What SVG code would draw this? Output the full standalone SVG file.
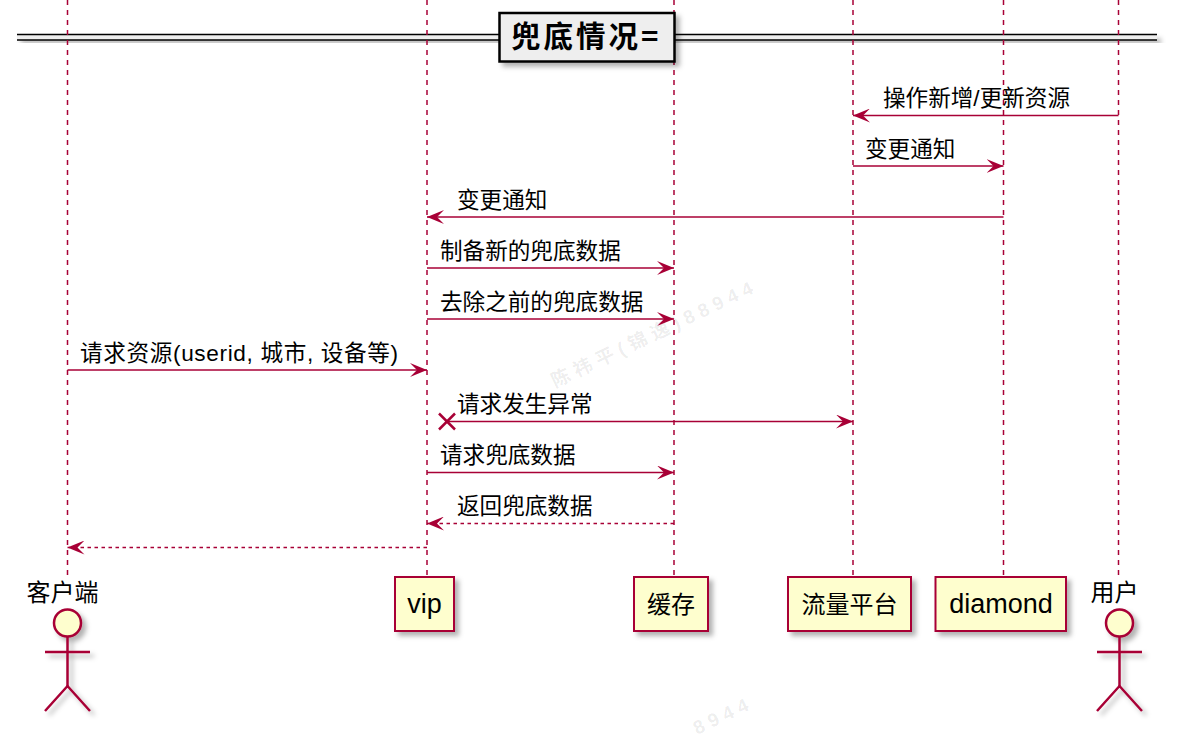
<svg xmlns="http://www.w3.org/2000/svg" width="1203" height="741" viewBox="0 0 1203 741">
<style>
.life{stroke:#A80036;stroke-width:1.5;stroke-dasharray:5,5;fill:none}
.msg{stroke:#A80036;stroke-width:1.5;fill:none;marker-end:url(#ah)}
.dash{stroke-dasharray:3.5,3.5}
.lbl{font-family:"Liberation Sans","Noto Sans CJK SC",sans-serif;font-size:22.6px;fill:#000}
.part{fill:#FEFECE;stroke:#A80036;stroke-width:2}
.pname{font-family:"Liberation Sans","Noto Sans CJK SC",sans-serif;font-size:24px;fill:#000;text-anchor:middle}
.latin{font-size:27px}
.actor{fill:none;stroke:#A80036;stroke-width:2.5}
.wm{font-family:"Liberation Sans","Noto Sans CJK SC",sans-serif;font-size:19px;font-weight:bold;fill:#000;fill-opacity:0.08;letter-spacing:5.5px}
</style>
<defs>
<filter id="sh" x="-20%" y="-20%" width="150%" height="160%">
<feDropShadow dx="4" dy="4" stdDeviation="2.5" flood-color="#000" flood-opacity="0.3"/>
</filter>
<marker id="ah" viewBox="0 0 17 14" refX="17" refY="7" markerWidth="17" markerHeight="14" markerUnits="userSpaceOnUse" orient="auto">
<path d="M0,0 L17,7 L0,14 L7,7 Z" fill="#A80036"/>
</marker>
</defs>
<rect width="1203" height="741" fill="#FFFFFF"/>

<g id="watermarks">
<text class="wm" transform="translate(555,388) rotate(-25.5)">陈祎平(锦逸)88944</text>
<text class="wm" transform="translate(697,735) rotate(-25.5)">8944</text>
</g>

<g id="divider">
<rect x="17" y="34.5" width="1140" height="5.5" fill="#EEEEEE" filter="url(#sh)"/>
<line x1="17" y1="34.5" x2="1157" y2="34.5" stroke="#000" stroke-width="1.5"/>
<line x1="17" y1="40" x2="1157" y2="40" stroke="#000" stroke-width="1.5"/>
</g>

<g id="lifelines">
<line class="life" x1="67.5" y1="0" x2="67.5" y2="578"/>
<line class="life" x1="427" y1="0" x2="427" y2="577"/>
<line class="life" x1="674" y1="0" x2="674" y2="577"/>
<line class="life" x1="853" y1="0" x2="853" y2="577"/>
<line class="life" x1="1003.5" y1="0" x2="1003.5" y2="577"/>
<line class="life" x1="1118.5" y1="0" x2="1118.5" y2="578"/>
</g>

<g id="title">
<rect x="499.5" y="13" width="175" height="48.5" fill="#EEEEEE" stroke="#000" stroke-width="2.5" filter="url(#sh)"/>
<text x="511" y="47" font-family="Noto Sans CJK SC, sans-serif" font-size="29.5" font-weight="bold" letter-spacing="3">兜底情况=</text>
</g>

<g id="connectors">
<line class="msg" x1="1118.5" y1="115.5" x2="853" y2="115.5"/>
<text class="lbl" x="883" y="106">操作新增/更新资源</text>
<line class="msg" x1="853" y1="166" x2="1003.5" y2="166"/>
<text class="lbl" x="865" y="157">变更通知</text>
<line class="msg" x1="1003.5" y1="217" x2="427" y2="217"/>
<text class="lbl" x="457" y="208">变更通知</text>
<line class="msg" x1="427" y1="268" x2="674" y2="268"/>
<text class="lbl" x="440" y="259">制备新的兜底数据</text>
<line class="msg" x1="427" y1="319" x2="674" y2="319"/>
<text class="lbl" x="440" y="310">去除之前的兜底数据</text>
<line class="msg" x1="67.5" y1="370" x2="427" y2="370"/>
<text class="lbl" x="80" y="361" textLength="318" lengthAdjust="spacing">请求资源(userid, 城市, 设备等)</text>
<g stroke="#A80036" stroke-width="2.5">
<line x1="439" y1="413.5" x2="455" y2="429.5"/>
<line x1="455" y1="413.5" x2="439" y2="429.5"/>
</g>
<line class="msg" x1="447" y1="421.5" x2="853" y2="421.5"/>
<text class="lbl" x="457" y="412">请求发生异常</text>
<line class="msg" x1="427" y1="472.5" x2="674" y2="472.5"/>
<text class="lbl" x="440" y="463">请求兜底数据</text>
<line class="msg dash" x1="674" y1="523.5" x2="427" y2="523.5"/>
<text class="lbl" x="457" y="514">返回兜底数据</text>
<line class="msg dash" x1="427" y1="547.5" x2="67.5" y2="547.5"/>
</g>

<g id="client">
<text class="pname" x="62.5" y="601">客户端</text>
<g class="actor" filter="url(#sh)">
<circle cx="67.5" cy="623" r="13.5" fill="#FEFECE"/>
<line x1="67.5" y1="636.5" x2="67.5" y2="686"/>
<line x1="45" y1="652" x2="90" y2="652"/>
<polyline points="45,711 67.5,686 90,711"/>
</g>
</g>

<g id="vip">
<rect class="part" x="395" y="577" width="59" height="54" filter="url(#sh)"/>
<text class="pname latin" x="424.5" y="613">vip</text>
</g>

<g id="cache">
<rect class="part" x="634" y="577" width="74" height="54" filter="url(#sh)"/>
<text class="pname" x="671" y="613">缓存</text>
</g>

<g id="flow">
<rect class="part" x="788" y="577" width="123" height="54" filter="url(#sh)"/>
<text class="pname" x="849.5" y="613">流量平台</text>
</g>

<g id="diamond">
<rect class="part" x="935.5" y="577" width="130.5" height="54" filter="url(#sh)"/>
<text class="pname latin" x="1001" y="613">diamond</text>
</g>

<g id="user">
<text class="pname" x="1114.5" y="601">用户</text>
<g class="actor" filter="url(#sh)">
<circle cx="1119.5" cy="623" r="13.5" fill="#FEFECE"/>
<line x1="1119.5" y1="636.5" x2="1119.5" y2="686"/>
<line x1="1097" y1="652" x2="1142" y2="652"/>
<polyline points="1097,711 1119.5,686 1142,711"/>
</g>
</g>
</svg>
